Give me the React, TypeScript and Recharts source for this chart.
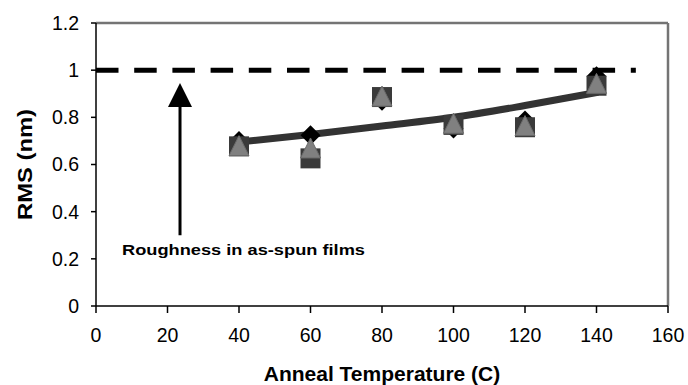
import React from 'react'
import {
  ComposedChart,
  Line,
  Scatter,
  XAxis,
  YAxis,
  ReferenceLine,
} from 'recharts'

const temps = [40, 60, 80, 100, 120, 140]
const diamondRms = [0.7, 0.724, 0.87, 0.753, 0.787, 0.974]
const squareRms = [0.677, 0.626, 0.886, 0.768, 0.758, 0.934]
const triangleRms = [0.68, 0.67, 0.89, 0.775, 0.765, 0.944]
const trendRms = [0.695, 0.727, 0.763, 0.8, 0.85, 0.905]

const xTicks = [0, 20, 40, 60, 80, 100, 120, 140, 160]
const yTicks = [0, 0.2, 0.4, 0.6, 0.8, 1, 1.2]
const xMax = 160
const yMax = 1.2

const asSpunRms = 1
const asSpunEnd = 151
const arrowX = 23.5
const arrowFrom = 0.3
const arrowTo = 0.946
const annotation = 'Roughness in as-spun films'

const toPoints = (vals: number[]) => temps.map((t, i) => ({ temp: t, rms: vals[i] }))

const diamondData = toPoints(diamondRms)
const squareData = toPoints(squareRms)
const triangleData = toPoints(triangleRms)
const trendData = toPoints(trendRms)

const FONT = '"Liberation Sans", Arial, sans-serif'

function DiamondMark({ cx, cy }: any) {
  if (cx == null || cy == null) return null
  const h = 10
  return <polygon points={`${cx},${cy - h} ${cx + h},${cy} ${cx},${cy + h} ${cx - h},${cy}`} fill="#000" />
}

function SquareMark({ cx, cy }: any) {
  if (cx == null || cy == null) return null
  return <rect x={cx - 10} y={cy - 10} width={20} height={20} fill="#3a3a3a" />
}

function TriangleMark({ cx, cy }: any) {
  if (cx == null || cy == null) return null
  const h = 10
  return (
    <polygon
      points={`${cx},${cy - h} ${cx + h},${cy + h} ${cx - h},${cy + h}`}
      fill="#808080"
      stroke="#6a6a6a"
      strokeWidth={1}
    />
  )
}

function ArrowShape(props: any) {
  const { x1, y1, x2, y2 } = props
  if (x1 == null) return null
  const tip = Math.min(y1, y2)
  const base = Math.max(y1, y2)
  const x = (x1 + x2) / 2
  return (
    <g>
      <line x1={x} y1={base} x2={x} y2={tip + 20} stroke="#000" strokeWidth={3} />
      <polygon points={`${x},${tip} ${x + 12},${tip + 24} ${x - 12},${tip + 24}`} fill="#000" />
      <text
        x={x - 58}
        y={base + 20}
        fontFamily={FONT}
        fontWeight="bold"
        fontSize={15.5}
        textLength={243}
        lengthAdjust="spacingAndGlyphs"
        fill="#000"
      >
        {annotation}
      </text>
    </g>
  )
}

// frame of the plot area: top and right edges
function FrameShape(props: any) {
  const { x1, y1, x2, y2 } = props
  if (x1 == null) return null
  return <line x1={x1} y1={y1} x2={x2} y2={y2} stroke="#747474" strokeWidth={2.5} />
}

export default function App() {
  return (
    <div style={{ position: 'absolute', left: 0, top: 0, background: '#fff' }}>
      <ComposedChart
        width={688}
        height={385}
        margin={{ top: 23, right: 20, left: 0, bottom: 0 }}
      >
        <XAxis
          type="number"
          dataKey="temp"
          domain={[0, xMax]}
          ticks={xTicks}
          allowDataOverflow
          height={79}
          stroke="#000"
          strokeWidth={1.5}
          tickSize={7}
          tickMargin={15}
          tick={{ fontSize: 19.5, fill: '#000', fontFamily: FONT }}
          label={{
            content: ({ viewBox }: any) => (
              <text
                x={viewBox.x + viewBox.width / 2}
                y={viewBox.y + 75}
                textAnchor="middle"
                fontFamily={FONT}
                fontWeight="bold"
                fontSize={21}
                fill="#000"
              >
                Anneal Temperature (C)
              </text>
            ),
          }}
        />
        <YAxis
          type="number"
          dataKey="rms"
          domain={[0, yMax]}
          ticks={yTicks}
          allowDataOverflow
          width={96}
          stroke="#000"
          strokeWidth={1.5}
          tickSize={5}
          tickMargin={12}
          tick={{ fontSize: 19.5, fill: '#000', fontFamily: FONT }}
          label={{
            content: ({ viewBox }: any) => {
              const cx = viewBox.x + 24
              const cy = viewBox.y + viewBox.height / 2
              return (
                <text
                  x={cx}
                  y={cy}
                  transform={`rotate(-90 ${cx} ${cy})`}
                  textAnchor="middle"
                  dominantBaseline="central"
                  fontFamily={FONT}
                  fontWeight="bold"
                  fontSize={21}
                  textLength={111}
                  lengthAdjust="spacingAndGlyphs"
                  fill="#000"
                >
                  RMS (nm)
                </text>
              )
            },
          }}
        />
        <ReferenceLine
          segment={[
            { x: 0, y: yMax },
            { x: xMax, y: yMax },
          ]}
          shape={<FrameShape />}
        />
        <ReferenceLine
          segment={[
            { x: xMax, y: 0 },
            { x: xMax, y: yMax },
          ]}
          shape={<FrameShape />}
        />
        <ReferenceLine
          segment={[
            { x: 0, y: asSpunRms },
            { x: asSpunEnd, y: asSpunRms },
          ]}
          stroke="#000"
          strokeWidth={5}
          strokeDasharray="22.5 15.7"
        />
        <ReferenceLine
          segment={[
            { x: arrowX, y: arrowFrom },
            { x: arrowX, y: arrowTo },
          ]}
          shape={<ArrowShape />}
        />
        <Scatter data={diamondData} dataKey="rms" shape={<DiamondMark />} isAnimationActive={false} />
        <Scatter data={squareData} dataKey="rms" shape={<SquareMark />} isAnimationActive={false} />
        <Scatter data={triangleData} dataKey="rms" shape={<TriangleMark />} isAnimationActive={false} />
        <Line
          data={trendData}
          dataKey="rms"
          type="monotone"
          stroke="#333333"
          strokeWidth={7}
          strokeLinecap="round"
          dot={false}
          activeDot={false}
          isAnimationActive={false}
        />
      </ComposedChart>
    </div>
  )
}
